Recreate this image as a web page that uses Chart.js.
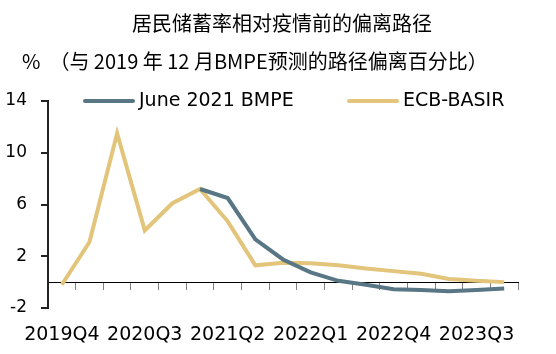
<!DOCTYPE html>
<html>
<head>
<meta charset="utf-8">
<script src="https://cdn.jsdelivr.net/npm/chart.js@4/dist/chart.umd.min.js"></script>
<style>
  html, body { margin: 0; padding: 0; background: #fff; }
  #wrap { width: 556px; height: 354px; }
</style>
</head>
<body>
<div id="wrap"><canvas id="chart"></canvas></div>
<script>
// data
const quarters = ['2019Q4', '2020Q1', '2020Q2', '2020Q3', '2020Q4', '2021Q1', '2021Q2', '2021Q3',
    '2021Q4', '2022Q1', '2022Q2', '2022Q3', '2022Q4', '2023Q1', '2023Q2', '2023Q3', '2023Q4'];
const bmpe = [null, null, null, null, null, 7.2, 6.5, 3.3, 1.75, 0.75, 0.1, -0.2, -0.55, -0.6, -0.7, -0.6, -0.5];
const basir = [-0.2, 3.1, 11.5, 4.0, 6.1, 7.2, 4.7, 1.3, 1.5, 1.45, 1.3, 1.05, 0.85, 0.65, 0.25, 0.1, 0.0];
const yTicks = [-2, 2, 6, 10, 14];
const seriesNames = ['June 2021 BMPE', 'ECB-BASIR'];
const seriesColors = ['#587684', '#e2c47a'];
const titleText = '居民储蓄率相对疫情前的偏离路径';
const subtitleText = '\u3000%  （与 2019 年 12 月BMPE预测的路径偏离百分比）';

// legend sits on the top edge of the plot, so it is drawn by hand
const legendX = [85, 349];

const lineLegend = {
    id: 'lineLegend',
    afterDatasetsDraw(chart) {
        let ctx = chart.ctx
        let y = chart.chartArea.top
        ctx.save()
        ctx.font = '19px "DejaVu Sans"'
        ctx.textBaseline = 'middle'
        chart.data.datasets.forEach((ds, i) => {
            let x = legendX[i]
            ctx.strokeStyle = ds.borderColor
            ctx.lineWidth = 4
            ctx.lineCap = 'round'
            ctx.beginPath()
            ctx.moveTo(x, y)
            ctx.lineTo(x + 48, y)
            ctx.stroke()
            ctx.fillStyle = '#000'
            ctx.fillText(ds.label, x + 54, y)
        })
        ctx.restore()
    }
};

const data = {
    labels: quarters,
    datasets: [{
        label: seriesNames[0],
        data: bmpe,
        borderColor: seriesColors[0],
        borderWidth: 4,
        pointRadius: 0,
        tension: 0
    }, {
        label: seriesNames[1],
        data: basir,
        borderColor: seriesColors[1],
        borderWidth: 4,
        pointRadius: 0,
        tension: 0
    }]
};

const myChart = new Chart('chart', {
    type: 'line',
    data: data,
    plugins: [lineLegend],
    options: {
        responsive: true,
        maintainAspectRatio: false,
        animation: false,
        layout: {
            // negative right padding keeps the title centred where the original has it
            padding: { left: 2, right: -6, top: 0, bottom: 46 }
        },
        plugins: {
            legend: { display: false },
            tooltip: { enabled: false },
            title: {
                display: true,
                text: titleText,
                color: '#000',
                font: { family: 'Noto Sans CJK SC', size: 20, weight: 'normal' },
                padding: { top: 11.5, bottom: 13.5 }
            },
            subtitle: {
                display: true,
                text: subtitleText,
                align: 'start',
                color: '#000',
                font: { family: 'Noto Sans CJK SC', size: 20, weight: 'normal' },
                padding: { top: 0, bottom: 28 }
            }
        },
        scales: {
            x: {
                type: 'category',
                position: { y: 0 },
                offset: true,
                afterFit: scale => {
                    scale.paddingLeft = 0
                    scale.paddingRight = 38
                },
                grid: { offset: true, drawOnChartArea: false, drawTicks: true, tickLength: 7, color: '#808080' },
                border: { color: '#000', width: 1 },
                ticks: {
                    autoSkip: false,
                    maxRotation: 0,
                    padding: 35,
                    color: '#000',
                    font: { family: 'DejaVu Sans', size: 19 },
                    callback: (value, index) => index % 3 === 0 ? quarters[index] : ''
                }
            },
            y: {
                min: yTicks[0],
                max: yTicks[yTicks.length - 1],
                afterBuildTicks: scale => {
                    scale.ticks = yTicks.map(v => ({ value: v }))
                },
                afterFit: scale => {
                    scale.width = 46
                },
                // a 1px axis line did not show up, 2px does
                grid: { drawOnChartArea: false, drawTicks: true, tickLength: 7, color: '#222', lineWidth: 2, z: 1 },
                border: { color: '#222', width: 2, z: 1 },
                ticks: {
                    padding: 14,
                    color: '#000',
                    font: { family: 'DejaVu Sans', size: 17 }
                }
            }
        }
    }
});
</script>
</body>
</html>
